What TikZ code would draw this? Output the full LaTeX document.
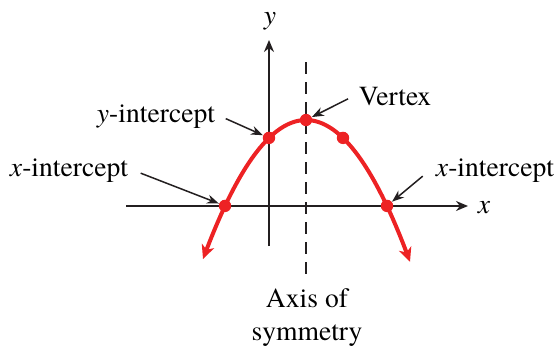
\documentclass[tikz,border=0pt]{standalone}
\usepackage{fontspec}
\setmainfont{texgyretermes}[Extension=.otf,UprightFont=*-regular,ItalicFont=*-italic,BoldFont=*-bold]
\usepackage{tikz}
\usetikzlibrary{arrows.meta}
\definecolor{cKurve}{RGB}{237,34,36}
\definecolor{cAchse}{RGB}{35,31,32}

\begin{document}
\begin{tikzpicture}[x=0.5pt,y=-0.5pt,font=\fontsize{13.8}{16.5}\selectfont,
  pt/.style={circle,fill=cKurve,inner sep=0pt,minimum size=6.2pt},
  zeiger/.style={-{Stealth[length=6pt,width=4.5pt]},line width=0.75pt,cAchse}]
\useasboundingbox (0,0) rectangle (557,348);
% Achsen
\node (lx) at (484,208) {\textit{x}};
\node (ly) at (270,21) {\textit{y}};
\draw[line width=0.9pt,cAchse,-{Stealth[length=6pt,width=5pt]}] (126,206)--(468,206);
\draw[line width=0.9pt,cAchse,-{Stealth[length=6pt,width=5pt]}] (269,246)--(269,40);
\draw[line width=0.9pt,cAchse,dash pattern=on 6pt off 4pt] (306,62)--(306,281);
\node[align=center] (lsym) at (307,318) {Axis of\\symmetry};
% Parabel
\draw[cKurve,line width=2pt,{Stealth[length=7pt,width=6.5pt,inset=2pt]}-{Stealth[length=7pt,width=6.5pt,inset=2pt]},domain=203:410,samples=60]
  plot (\x,{120+0.0131*(\x-306)*(\x-306)});
\node[pt] (xl) at (225,205.9) {};
\node[pt] (yi) at (269,137.9) {};
\node[pt] (vx) at (306,120) {};
\node[pt] (sp) at (343,137.9) {};
\node[pt] (xr) at (387,205.9) {};
% Beschriftungen
\node (lxl) at (69,171) {\textit{x}-intercept};
\node (lyi) at (156,117) {\textit{y}-intercept};
\node (lvx) at (395,97) {Vertex};
\node (lxr) at (495,171) {\textit{x}-intercept};
\draw[zeiger,shorten <=3pt] (lxl.east)--(xl);
\draw[zeiger,shorten <=2pt] (lyi.east)--(yi);
\draw[zeiger,shorten <=2pt] (lvx.west)--(vx);
\draw[zeiger,shorten <=4pt] (lxr.west)--(xr);
\end{tikzpicture}
\end{document}
